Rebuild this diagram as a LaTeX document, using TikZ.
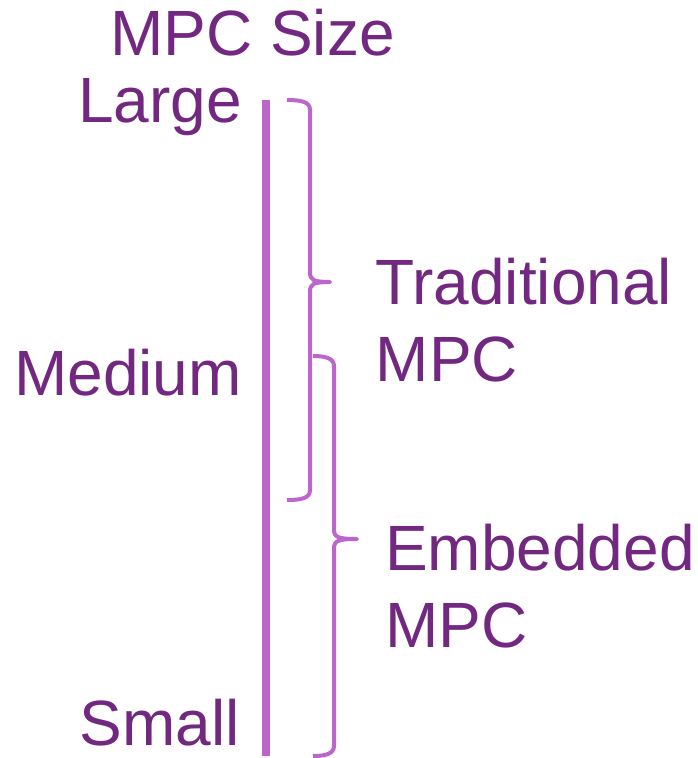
\documentclass[tikz,border=0pt]{standalone}
\usepackage{fontspec}
\setmainfont{Liberation Sans}
\definecolor{labelpurple}{RGB}{114,40,128}
\definecolor{linepurple}{RGB}{188,102,204}
\begin{document}
\begin{tikzpicture}[x=1pt,y=-1pt,
  lbl/.style={text=labelpurple,font=\fontsize{64}{77}\selectfont,inner sep=0pt},
  bracepath/.style={draw=linepurple,line width=4pt,line cap=butt,line join=round},
  scalebar/.style={draw=linepurple,line width=8pt}]
\useasboundingbox (0,0) rectangle (698,758);

% size axis
\coordinate (axtop) at (266,100);
\coordinate (axbot) at (266,756);
\draw[scalebar] (axtop) -- (axbot);

% axis labels
\node[lbl,anchor=base west] (title) at (110,55) {MPC Size};
\node[lbl,anchor=base east] (large) at (242,122) {Large};
\node[lbl,anchor=base east] (medium) at (242,395) {Medium};
\node[lbl,anchor=base east] (small) at (240,745) {Small};

% brace for traditional MPC (large to medium)
\coordinate (b1top) at (287,100);
\coordinate (b1tip) at (330,282);
\coordinate (b1bot) at (287,500);
\draw[bracepath] (b1top) .. controls (302,100) and (310,102) .. (310,110)
  -- (310,272) .. controls (310,280) and (313,282) .. (b1tip)
  .. controls (313,282) and (310,284) .. (310,292)
  -- (310,490) .. controls (310,498) and (302,500) .. (b1bot);

% brace for embedded MPC (medium to small)
\coordinate (b2top) at (313,356);
\coordinate (b2tip) at (357,539);
\coordinate (b2bot) at (313,756);
\draw[bracepath] (b2top) .. controls (325,356) and (334,358) .. (334,366)
  -- (334,529) .. controls (334,537) and (337,539) .. (b2tip)
  .. controls (337,539) and (334,541) .. (334,549)
  -- (334,746) .. controls (334,754) and (325,756) .. (b2bot);

% brace captions
\node[lbl,anchor=base west] (trad) at (375.5,304) {Traditional};
\node[lbl,anchor=base west] (tradmpc) at (375.5,381) {MPC};
\node[lbl,anchor=base west] (emb) at (385,570) {Embedded};
\node[lbl,anchor=base west] (embmpc) at (385,647) {MPC};
\end{tikzpicture}
\end{document}
